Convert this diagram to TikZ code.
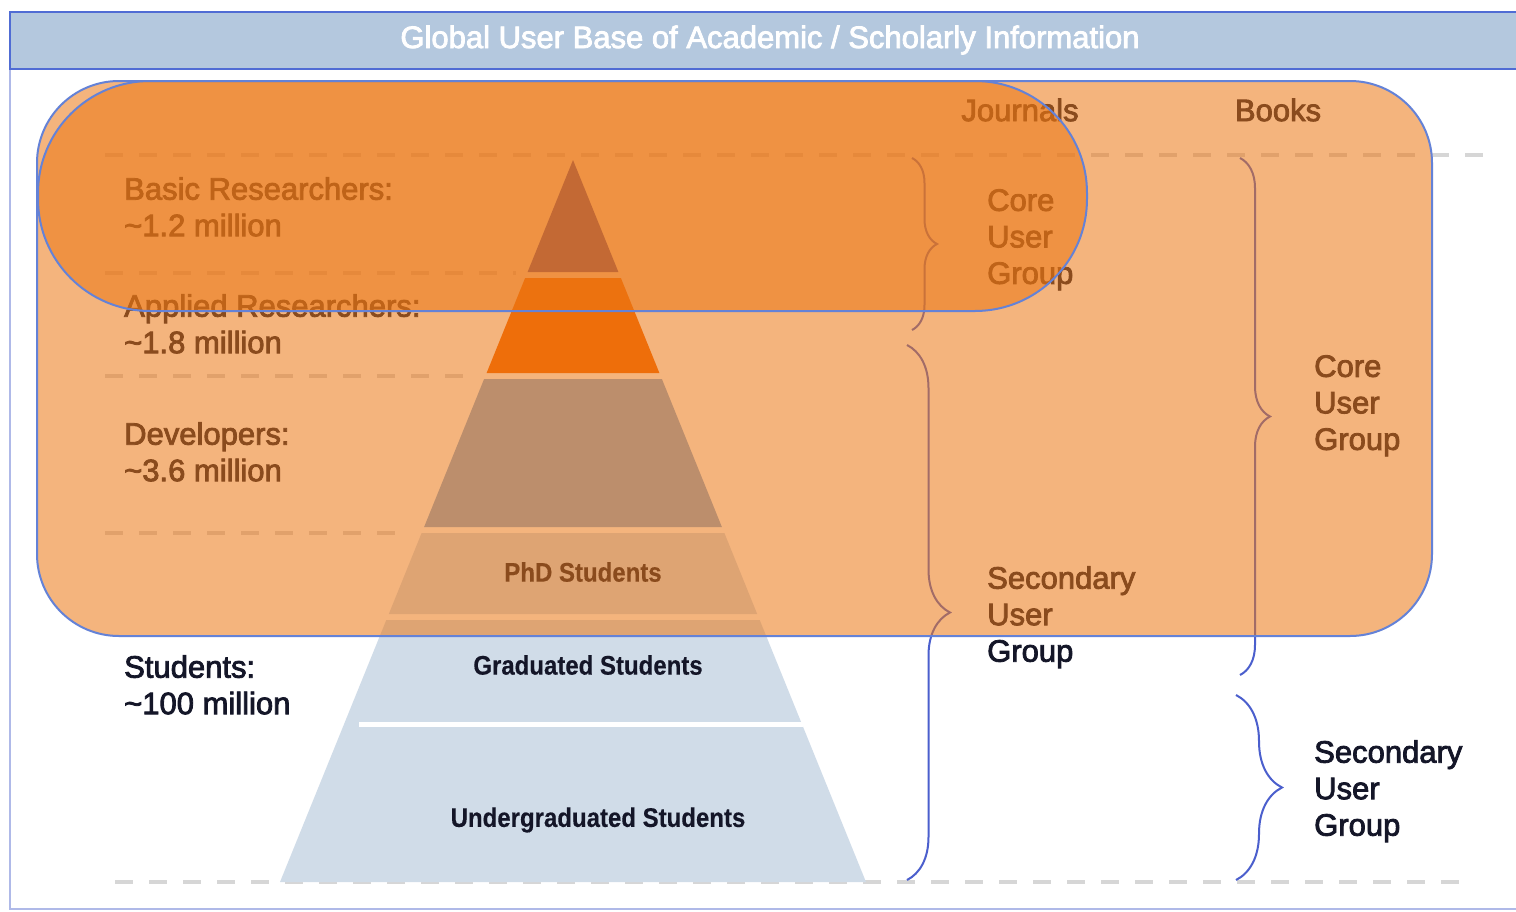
\documentclass[tikz,border=0pt]{standalone}
\usepackage{fontspec}
\setmainfont{Liberation Sans}
\newfontfamily\lblfont{Liberation Sans}[FakeBold=2.6]
\newfontfamily\titlefont{Liberation Sans}[FakeBold=2.6]
\newfontfamily\pyrfont{Liberation Sans Bold}[FakeBold=0.3]
\usetikzlibrary{decorations.pathreplacing}
\definecolor{titlefill}{RGB}{180,200,222}
\definecolor{titleborder}{RGB}{80,108,212}
\definecolor{frameborder}{RGB}{175,185,232}
\definecolor{dashgray}{RGB}{214,214,214}
\definecolor{lay1}{RGB}{42,55,183}
\definecolor{lay2}{RGB}{242,100,0}
\definecolor{lay3}{RGB}{131,171,216}
\definecolor{lay4}{RGB}{208,220,232}
\definecolor{txt}{RGB}{20,22,40}
\definecolor{bracec}{RGB}{75,95,205}
\definecolor{ovl}{RGB}{235,119,20}
\definecolor{ovlborder}{RGB}{100,130,215}
\begin{document}
\begin{tikzpicture}[x=1pt,y=-1pt,
  lbl/.style={font=\lblfont\fontsize{31}{36.5}\selectfont, text=txt, align=left, inner sep=0pt, anchor=north west},
  plbl/.style={font=\pyrfont\fontsize{24}{28}\selectfont, text=txt, inner sep=0pt},
  guide/.style={draw=dashgray, line width=4.5pt, dash pattern=on 18pt off 16pt},
  brc/.style={draw=bracec, line width=2pt, decorate, decoration={brace, amplitude=#1}},
  ovlbox/.style={fill=ovl, fill opacity=0.55, draw=ovlborder, line width=2pt}
]
\useasboundingbox (0,0) rectangle (1516,911);
\fill[white] (0,0) rectangle (1516,911);
% frame and title bar
\draw[frameborder, line width=2.5pt] (10,12) rectangle (1540,909);
\draw[fill=titlefill, draw=titleborder, line width=2.5pt] (10,12) rectangle (1540,69);
\node[font=\titlefont\fontsize{31}{36}\selectfont, text=white, inner sep=0pt] (title) at (770,40) {Global User Base of Academic / Scholarly Information};
% guide lines
\draw[guide] (105,155) -- (1485,155);
\draw[guide] (105,273) -- (516,273);
\draw[guide] (105,376) -- (468,376);
\draw[guide] (105,533) -- (400,533);
\draw[guide] (115,882) -- (1465,882);
% pyramid
\fill[lay1] (573,160) -- (618.4,272) -- (527.6,272) -- cycle;
\fill[lay2] (525.1,278) -- (620.9,278) -- (659.4,373) -- (486.6,373) -- cycle;
\fill[lay3] (484.1,379) -- (661.9,379) -- (721.9,527) -- (424.1,527) -- cycle;
\fill[lay4] (421.6,533) -- (724.4,533) -- (757.2,614) -- (388.8,614) -- cycle;
\fill[lay4] (386.3,620) -- (759.7,620) -- (866,882) -- (280,882) -- cycle;
\draw[white, line width=5pt] (359,724.5) -- (803,724.5);
\node[plbl] (phd) at (583,572) {\scalebox{1}[1.12]{PhD Students}};
\node[plbl] (grad) at (588,665) {\scalebox{1}[1.12]{Graduated Students}};
\node[plbl] (ugrad) at (598,820) {\scalebox{1}[1.12]{Undergraduated Students}};
% left labels
\node[lbl] (basic) at (124,177) {Basic Researchers:\\\textasciitilde 1.2 million};
\node[lbl] (applied) at (124,294) {Applied Researchers:\\\textasciitilde 1.8 million};
\node[lbl] (dev) at (124,422) {Developers:\\\textasciitilde 3.6 million};
\node[lbl] (stud) at (124,655) {Students:\\\textasciitilde 100 million};
% right labels
\node[lbl, anchor=center] (journals) at (1020,110) {Journals};
\node[lbl, anchor=center] (books) at (1278,110) {Books};
\node[lbl] (jcore) at (987,189) {Core\\User\\Group};
\node[lbl] (jsec) at (987,566) {Secondary\\User\\Group};
\node[lbl] (bcore) at (1314,355) {Core\\User\\Group};
\node[lbl] (bsec) at (1314,740) {Secondary\\User\\Group};
% braces
\coordinate (jc1) at (912,158); \coordinate (jc2) at (912,330);
\coordinate (js1) at (907,345); \coordinate (js2) at (907,880);
\coordinate (bc1) at (1240,158); \coordinate (bc2) at (1240,675);
\coordinate (bs1) at (1236,695); \coordinate (bs2) at (1236,880);
\draw[brc=25] (jc1) -- (jc2);
\draw[brc=43] (js1) -- (js2);
\draw[brc=30] (bc1) -- (bc2);
\draw[brc=46] (bs1) -- (bs2);
% overlays
\draw[ovlbox, rounded corners=82pt] (37,81) rectangle (1432,636);
\draw[ovlbox, rounded corners=112pt] (38,81) rectangle (1087,311);
\end{tikzpicture}
\end{document}
